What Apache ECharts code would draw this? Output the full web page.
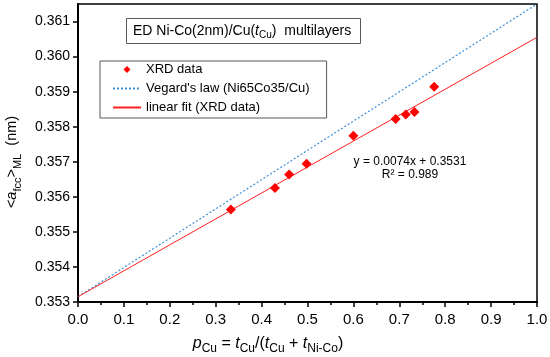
<!DOCTYPE html>
<html>
<head>
<meta charset="utf-8">
<script src="https://cdn.jsdelivr.net/npm/echarts@6/dist/echarts.min.js"></script>
<style>html,body{margin:0;padding:0;background:#fff;}#c{width:550px;height:357px;}</style>
</head>
<body>
<div id="c"></div>
<script>
// Data
var xrdX = [0.333, 0.429, 0.460, 0.498, 0.600, 0.692, 0.714, 0.733, 0.776];
var xrdY = [0.35564, 0.35625, 0.35664, 0.35694, 0.35774, 0.35822, 0.35835, 0.35842, 0.35914];
var vegardX = [0, 1];
var vegardY = [0.35315, 0.3615];
var fitX = [0, 1];
var fitY = [0.35315, 0.36055];
var seriesNames = ['XRD data', "Vegard's law (Ni65Co35/Cu)", 'linear fit (XRD data)'];
var fitText = ['y = 0.0074x + 0.3531', 'R² = 0.989'];

function pairs(xs, ys) { return xs.map(function (x, i) { return [x, ys[i]]; }); }

var FONT = "'Liberation Sans', Arial, sans-serif";
var chart = echarts.init(document.getElementById('c'), null, { renderer: 'canvas' });
chart.setOption({
  animation: false,
  backgroundColor: '#fff',
  textStyle: { fontFamily: FONT, color: '#000' },
  grid: {
    left: 78, right: 13, top: 4, bottom: 55,
    containLabel: false, outerBoundsMode: 'none',
    show: true, borderColor: '#000', borderWidth: 1.5, backgroundColor: 'transparent'
  },
  title: {
    text: 'ED Ni-Co(2nm)/Cu({i|t}{s|Cu})  multilayers',
    left: 126, top: 18,
    borderColor: '#595959', borderWidth: 1,
    padding: [4, 10, 4, 7],
    textStyle: {
      fontFamily: FONT, fontSize: 14, fontWeight: 'normal', color: '#000', lineHeight: 18,
      rich: {
        i: { fontFamily: FONT, fontSize: 14, fontStyle: 'italic', lineHeight: 18 },
        s: { fontFamily: FONT, fontSize: 10, lineHeight: 10, verticalAlign: 'bottom' }
      }
    }
  },
  legend: {
    orient: 'vertical', left: 100, top: 61,
    borderColor: '#595959', borderWidth: 1,
    padding: [2, 17, 4, 12], itemGap: 6,
    itemWidth: 28, itemHeight: 10,
    symbolKeepAspect: true,
    textStyle: { fontFamily: FONT, fontSize: 13, color: '#000' },
    data: [
      { name: seriesNames[0], icon: 'path://M0,0M28,10M14,1.5L17.5,5L14,8.5L10.5,5Z' },
      { name: seriesNames[1], itemStyle: { opacity: 0 } },
      { name: seriesNames[2], itemStyle: { opacity: 0 } }
    ]
  },
  xAxis: {
    type: 'value', min: 0, max: 1, interval: 0.1,
    axisLine: { lineStyle: { color: '#000', width: 2 } },
    axisTick: { show: true, inside: false, length: 5, lineStyle: { color: '#000', width: 1.5 } },
    minorTick: { show: true, splitNumber: 2, length: 3, lineStyle: { color: '#000', width: 1.5 } },
    splitLine: { show: false },
    axisLabel: { fontFamily: FONT, fontSize: 15, color: '#000', margin: 10, formatter: function (v) { return v.toFixed(1); } },
    name: '{i|p}{s|Cu} = {i|t}{s|Cu}/({i|t}{s|Cu} + {i|t}{s|Ni-Co})',
    nameLocation: 'middle', nameGap: 29,
    nameTextStyle: {
      fontFamily: FONT, fontSize: 16, color: '#000', lineHeight: 23, padding: [0, 79, 0, 0],
      rich: {
        i: { fontFamily: FONT, fontSize: 16, fontStyle: 'italic', lineHeight: 23 },
        s: { fontFamily: FONT, fontSize: 12, lineHeight: 12, verticalAlign: 'bottom' }
      }
    }
  },
  yAxis: {
    type: 'value', min: 0.353, max: 0.3615, interval: 0.001,
    axisLine: { show: true, lineStyle: { color: '#000', width: 2 } },
    axisTick: { show: true, inside: false, length: 5, lineStyle: { color: '#000', width: 1.5 } },
    splitLine: { show: false },
    axisLabel: { fontFamily: FONT, fontSize: 14, color: '#000', margin: 8, showMaxLabel: false, formatter: function (v) { return v.toFixed(3); } },
    name: '<{i|a}{s|fcc}>{s|ML}  (nm)',
    nameLocation: 'middle', nameGap: 55, nameRotate: 90,
    nameTextStyle: {
      fontFamily: FONT, fontSize: 14.5, color: '#000', lineHeight: 22, padding: [0, 18, 0, 0],
      rich: {
        i: { fontFamily: FONT, fontSize: 14.5, fontStyle: 'italic', lineHeight: 22 },
        s: { fontFamily: FONT, fontSize: 11, lineHeight: 11, verticalAlign: 'bottom' }
      }
    }
  },
  graphic: [
    {
      type: 'text', x: 410, y: 155,
      style: {
        text: fitText.join('\n'), fontFamily: FONT, fontSize: 12, fill: '#000',
        align: 'center', verticalAlign: 'top', lineHeight: 13
      }
    }
  ],
  series: [
    {
      name: seriesNames[1], type: 'line', data: pairs(vegardX, vegardY),
      symbol: 'none', showSymbol: false, z: 2,
      lineStyle: { color: '#3d8fd8', width: 1.2, type: [2, 2] },
      itemStyle: { color: '#3d8fd8' }
    },
    {
      name: seriesNames[2], type: 'line', data: pairs(fitX, fitY),
      symbol: 'none', showSymbol: false, z: 2,
      lineStyle: { color: '#ff2020', width: 1 },
      itemStyle: { color: '#ff2020' }
    },
    {
      name: seriesNames[0], type: 'scatter', data: pairs(xrdX, xrdY),
      symbol: 'diamond', symbolSize: 10, z: 3,
      itemStyle: { color: '#ff0000', opacity: 1 }
    }
  ]
});
</script>
</body>
</html>
